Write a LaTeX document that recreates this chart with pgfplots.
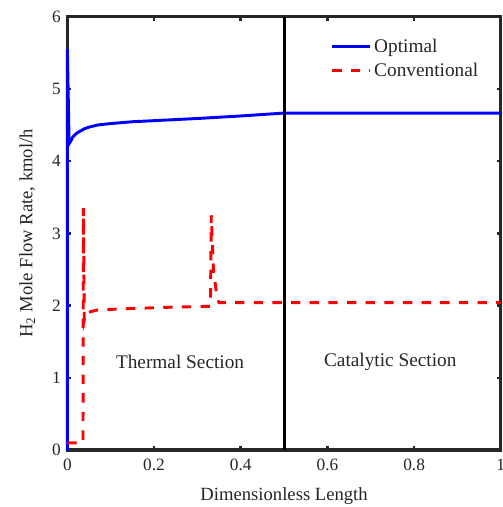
\documentclass[border=0pt]{standalone}
\usepackage{fontspec}
\setmainfont{Liberation Serif}
\usepackage{pgfplots}
\pgfplotsset{compat=1.18}
\usetikzlibrary{calc}
\definecolor{axgray}{RGB}{38,38,38}
\begin{document}
\begin{tikzpicture}
\begin{axis}[
  width=325.5pt, height=325.5pt, scale only axis,
  xmin=0, xmax=1, ymin=0, ymax=6,
  xtick={0,0.2,0.4,0.6,0.8,1},
  xticklabels={0,0.2,0.4,0.6,0.8,1},
  ytick={0,1,2,3,4,5,6},
  yticklabels={0,1,2,3,4,5,6},
  tick align=inside, major tick length=3pt,
  tick style={axgray, line width=2pt},
  axis line style={axgray, line width=2.4pt},
  ticklabel style={font=\fontsize{13}{15}\selectfont, text=axgray},
  xticklabel style={yshift=-3.5pt},
  yticklabel style={xshift=-1.5pt},
  label style={font=\fontsize{14}{16}\selectfont, text=axgray},
  xlabel={Dimensionless Length},
  ylabel={H\textsubscript{2} Mole Flow Rate, kmol/h},
  xlabel style={at={(axis description cs:0.5,-0.1155)}, anchor=base},
  ylabel style={at={(axis description cs:-0.081,0.5)}, anchor=base},
  /pgf/number format/assume math mode=true,
  clip=false,
  legend style={at={(rel axis cs:0.607,0.955)}, anchor=north west, draw=none, fill=none,
    font=\fontsize{14.5}{17}\selectfont, text=axgray, inner sep=0pt, row sep=2.5pt},
  legend cell align=left,
  legend image code/.code={\draw[#1] (0cm,0cm) -- (1cm,0cm);},
]
\addplot[blue, line width=2.2pt] coordinates {
  (0,0) (0,5.55) (0.004,4.24) (0.008,4.28) (0.012,4.33) (0.02,4.38) (0.028,4.41)
  (0.04,4.45) (0.05,4.47) (0.07,4.50) (0.1,4.52) (0.15,4.545) (0.2,4.56)
  (0.3,4.59) (0.4,4.625) (0.5,4.665) (1,4.665)
};
\addlegendentry{Optimal}
\addplot[red, line width=2.2pt, dash pattern=on 7pt off 7pt] coordinates {
  (0,0.1) (0.036,0.1) (0.037,3.35) (0.039,1.8) (0.043,1.9) (0.07,1.94)
  (0.15,1.96) (0.25,1.98) (0.33,1.99) (0.332,3.25) (0.337,2.5) (0.345,2.12)
  (0.35,2.04) (1,2.04)
};
\addlegendentry{Conventional}
\addplot[black, line width=2.4pt, forget plot] coordinates {(0.5,0) (0.5,6)};
\node[font=\fontsize{14.5}{16}\selectfont, text=axgray] at (axis cs:0.26,1.22) {Thermal Section};
\node[font=\fontsize{14.5}{16}\selectfont, text=axgray] at (axis cs:0.745,1.22) {Catalytic Section};
\end{axis}
\pgfresetboundingbox
\path ($(current axis.south west)+(-50.6pt,-42.75pt)$) rectangle ($(current axis.north east)+(1.2pt,12.5pt)$);
\end{tikzpicture}
\end{document}
